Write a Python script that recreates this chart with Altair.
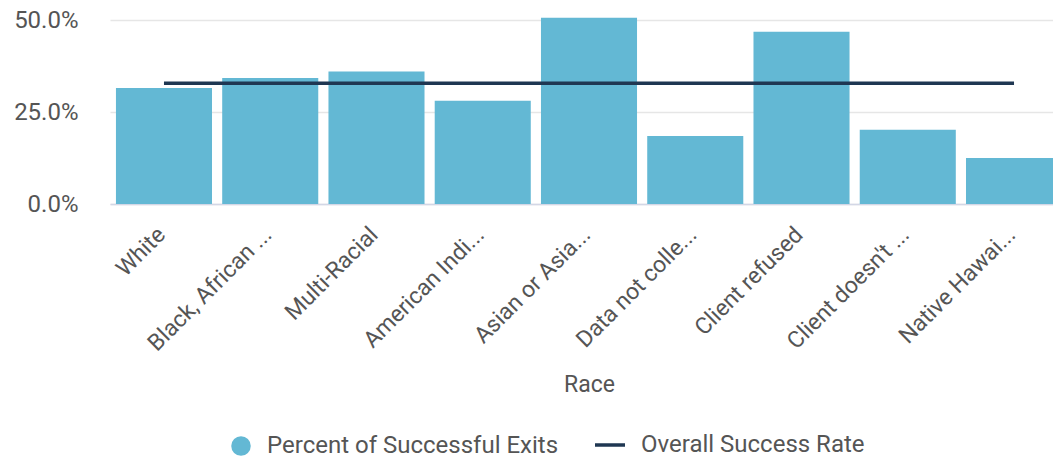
import altair as alt
import pandas as pd

categories = ["White", "Black, African ...", "Multi-Racial", "American Indi...",
              "Asian or Asia...", "Data not colle...", "Client refused",
              "Client doesn't ...", "Native Hawai..."]
success_pct = [0.316, 0.343, 0.361, 0.281, 0.507, 0.185, 0.469, 0.202, 0.125]
overall_rate = [0.329] * len(categories)
bar_series = "Percent of Successful Exits"
line_series = "Overall Success Rate"
y_ticks = [0, 0.25, 0.5]

BAR = "#63b8d4"
LINE = "#1f3752"
TXT = "#555555"
FONT = "Roboto"
FS = 24
XFS = 23

df = pd.DataFrame({
    "Race": categories,
    "pct": success_pct,
    "overall": overall_rate,
    "bar_s": [bar_series] * len(categories),
    "line_s": [line_series] * len(categories),
})

x_enc = alt.X(
    "Race:N", sort=categories, title="Race",
    scale=alt.Scale(paddingInner=0.096, paddingOuter=0.056),
    axis=alt.Axis(labelAngle=-45, labelAlign="right", labelBaseline="top",
                  labelPadding=19, labelOffset=-10, ticks=False, domainColor="#d3d7e6",
                  domainWidth=1.5, labelFontSize=XFS, labelColor=TXT,
                  titleFontSize=XFS, titleColor=TXT, titleFontWeight="normal",
                  titlePadding=18, labelLimit=0, labelFont=FONT, titleFont=FONT),
)
y_scale = alt.Scale(domain=[0, 0.52], nice=False)
y_axis = alt.Axis(values=y_ticks, format=".1%", ticks=False, domain=False,
                  gridColor="#e6e6e6", gridWidth=1.5, labelPadding=32,
                  labelFontSize=FS, labelColor=TXT, labelFont=FONT)

bars = alt.Chart(df).mark_bar().encode(
    x=x_enc,
    y=alt.Y("pct:Q", scale=y_scale, axis=y_axis, title=None),
    fill=alt.Fill("bar_s:N", scale=alt.Scale(domain=[bar_series], range=[BAR]),
                  legend=alt.Legend(orient="none", legendX=119, legendY=421,
                                    title=None, symbolType="circle", symbolSize=380,
                                    symbolOpacity=1, labelOffset=14, padding=0,
                                    labelFontSize=FS, labelColor=TXT, labelFont=FONT)),
)

line = alt.Chart(df).mark_line(strokeWidth=3.5).encode(
    x=alt.X("Race:N", sort=categories),
    y=alt.Y("overall:Q", scale=y_scale, axis=y_axis, title=None),
    stroke=alt.Stroke("line_s:N", scale=alt.Scale(domain=[line_series], range=[LINE]),
                      legend=alt.Legend(orient="none", legendX=483, legendY=415,
                                        title=None, symbolType="stroke", symbolSize=900,
                                        symbolStrokeWidth=3.5, labelOffset=14, padding=0,
                                        labelFontSize=FS, labelColor=TXT, labelFont=FONT)),
)

chart = alt.layer(bars, line).properties(
    width=958, height=191,
    autosize=alt.AutoSizeParams(type="none"),
    padding={"left": 102, "top": 5, "right": -15, "bottom": 256},
).configure(font=FONT).configure_view(stroke=None).configure_legend(
    labelFont=FONT, labelFontSize=FS, labelColor=TXT, labelLimit=0,
)

chart.save("out.html", embed_options={"renderer": "svg", "actions": False})
